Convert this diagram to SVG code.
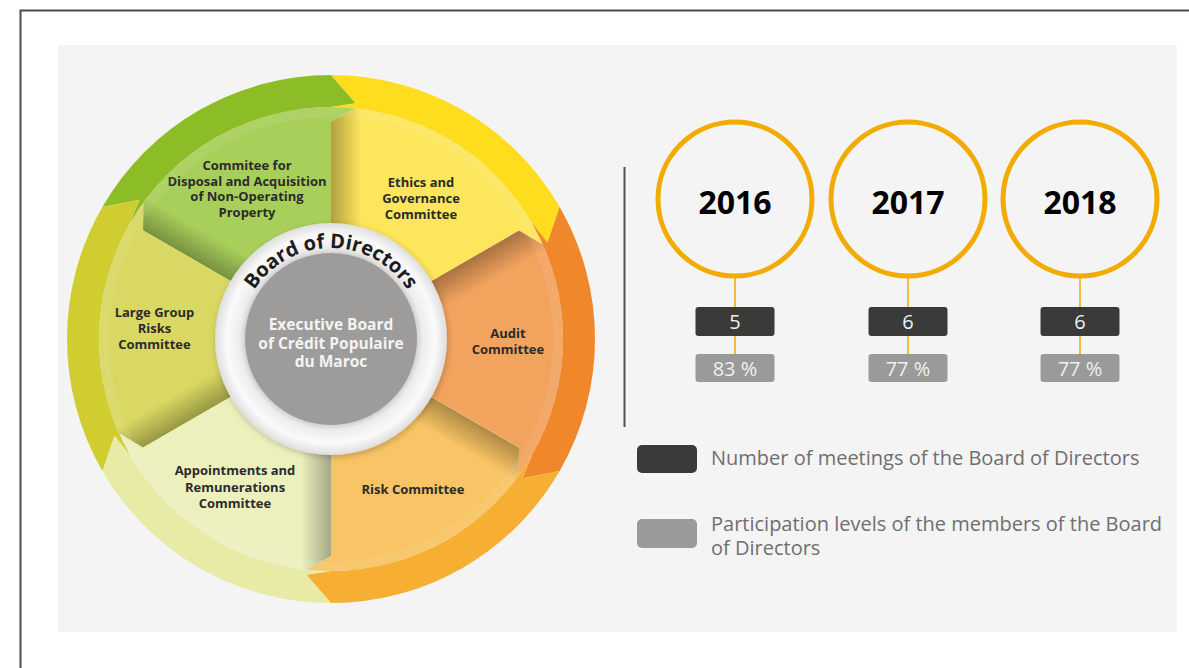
<svg xmlns="http://www.w3.org/2000/svg" xmlns:xlink="http://www.w3.org/1999/xlink" width="1189" height="668" viewBox="0 0 1189 668">
<style>
.lbl{font-family:"Open Sans","Liberation Sans",sans-serif;font-weight:700;font-size:13px;fill:#2b2b2b;text-anchor:middle}
.ctr{font-family:"Open Sans","Liberation Sans",sans-serif;font-weight:700;font-size:15.5px;fill:#f4f4f4;text-anchor:middle}
.bod{font-family:"Open Sans","Liberation Sans",sans-serif;font-weight:700;font-size:20px;fill:#1c1c1c}
.year{font-family:"Open Sans","Liberation Sans",sans-serif;font-weight:700;font-size:32px;fill:#000;text-anchor:middle}
.num{font-family:"Open Sans","Liberation Sans",sans-serif;font-weight:400;font-size:20px;fill:#f0f0f0;text-anchor:middle}
.leg{font-family:"Open Sans","Liberation Sans",sans-serif;font-weight:400;font-size:20px;fill:#6f6f6f}
.yc{fill:none;stroke:#f2ab00;stroke-width:5}
.gl{stroke:#f2ab00;stroke-width:1.5}
.db{fill:#3a3b38}
.gb{fill:#9a9a9a}
</style>
<defs>
<path id="segShape" d="M100,0 L217,0 L230.73,24.25 A232,232 0 0 1 94.36,211.94 L108.5,187.93 L50,86.6 A100,100 0 0 0 100,0 Z"/>
<path id="ringShape" d="M264,0 A264,264 0 0 1 132,228.63 L96.4,216.51 L116,200.92 A232,232 0 0 0 232,0 L235.7,24.77 Z"/>
<clipPath id="segClip"><use xlink:href="#segShape"/></clipPath>
<linearGradient id="shadowGrad" gradientUnits="userSpaceOnUse" x1="0" y1="0" x2="0" y2="30">
<stop offset="0" stop-color="#000" stop-opacity="0.3"/>
<stop offset="1" stop-color="#000" stop-opacity="0"/>
</linearGradient>
<radialGradient id="ringGrad" cx="331" cy="339" r="116" gradientUnits="userSpaceOnUse">
<stop offset="0.72" stop-color="#c6c6c6"/>
<stop offset="0.79" stop-color="#ededed"/>
<stop offset="0.9" stop-color="#fafafa"/>
<stop offset="1" stop-color="#dedede"/>
</radialGradient>
<filter id="drop" x="-20%" y="-20%" width="140%" height="140%">
<feDropShadow dx="1" dy="2" stdDeviation="3" flood-color="#000" flood-opacity="0.22"/>
</filter>
<path id="bodArc" d="M240,339 A91,91 0 0 1 422,339"/>
</defs>

<rect x="0" y="0" width="1189" height="668" fill="#ffffff"/>
<path d="M20.5,668 L20.5,10.5 L1189,10.5" fill="none" stroke="#4a4a4a" stroke-width="2"/>
<rect x="58" y="45" width="1119" height="587" fill="#f4f4f4"/>

<g id="node-disposal">
<g transform="translate(331,339) rotate(-150)">
<use xlink:href="#segShape" fill="#a9cf5b"/>
<rect x="90" y="0" width="150" height="30" fill="url(#shadowGrad)" clip-path="url(#segClip)"/>
</g>
<text class="lbl" x="247" y="170">Commitee for</text>
<text class="lbl" x="247" y="185.7">Disposal and Acquisition</text>
<text class="lbl" x="247" y="201.4">of Non-Operating</text>
<text class="lbl" x="247" y="217">Property</text>
</g>

<g id="node-ethics">
<g transform="translate(331,339) rotate(-90)">
<use xlink:href="#segShape" fill="#fde65b"/>
<rect x="90" y="0" width="150" height="30" fill="url(#shadowGrad)" clip-path="url(#segClip)"/>
</g>
<text class="lbl" x="421" y="187.3">Ethics and</text>
<text class="lbl" x="421" y="203.3">Governance</text>
<text class="lbl" x="421" y="219.3">Committee</text>
</g>

<g id="node-audit">
<g transform="translate(331,339) rotate(-30)">
<use xlink:href="#segShape" fill="#f2a35e"/>
<rect x="90" y="0" width="150" height="30" fill="url(#shadowGrad)" clip-path="url(#segClip)"/>
</g>
<text class="lbl" x="508" y="338.3">Audit</text>
<text class="lbl" x="508" y="354.3">Committee</text>
</g>

<g id="node-risk">
<g transform="translate(331,339) rotate(30)">
<use xlink:href="#segShape" fill="#f8c465"/>
<rect x="90" y="0" width="150" height="30" fill="url(#shadowGrad)" clip-path="url(#segClip)"/>
</g>
<text class="lbl" x="413" y="494">Risk Committee</text>
</g>

<g id="node-appointments">
<g transform="translate(331,339) rotate(90)">
<use xlink:href="#segShape" fill="#ecf0bd"/>
<rect x="90" y="0" width="150" height="30" fill="url(#shadowGrad)" clip-path="url(#segClip)"/>
</g>
<text class="lbl" x="235" y="475">Appointments and</text>
<text class="lbl" x="235" y="491.5">Remunerations</text>
<text class="lbl" x="235" y="507.5">Committee</text>
</g>

<g id="node-largegroup">
<g transform="translate(331,339) rotate(150)">
<use xlink:href="#segShape" fill="#d9d862"/>
<rect x="90" y="0" width="150" height="30" fill="url(#shadowGrad)" clip-path="url(#segClip)"/>
</g>
<text class="lbl" x="154.5" y="317.3">Large Group</text>
<text class="lbl" x="154.5" y="333">Risks</text>
<text class="lbl" x="154.5" y="349">Committee</text>
</g>

<circle cx="331" cy="339" r="227" fill="none" stroke="#ffffff" stroke-opacity="0.07" stroke-width="10"/>

<g id="connectors">
<g transform="translate(331,339)">
<use xlink:href="#ringShape" transform="rotate(-150)" fill="#8dbd26"/>
<use xlink:href="#ringShape" transform="rotate(-90)" fill="#fedd1f"/>
<use xlink:href="#ringShape" transform="rotate(-30)" fill="#f0872b"/>
<use xlink:href="#ringShape" transform="rotate(30)" fill="#f6ae33"/>
<use xlink:href="#ringShape" transform="rotate(90)" fill="#e8eba6"/>
<use xlink:href="#ringShape" transform="rotate(150)" fill="#cfcd2f"/>
</g>
<line class="gl" x1="735" y1="278" x2="735" y2="307"/>
<line class="gl" x1="735" y1="336" x2="735" y2="354"/>
<line class="gl" x1="908" y1="278" x2="908" y2="307"/>
<line class="gl" x1="908" y1="336" x2="908" y2="354"/>
<line class="gl" x1="1080" y1="278" x2="1080" y2="307"/>
<line class="gl" x1="1080" y1="336" x2="1080" y2="354"/>
</g>

<g id="node-board">
<circle cx="331" cy="339" r="116" fill="url(#ringGrad)" filter="url(#drop)"/>
<circle cx="331" cy="339" r="86" fill="#9d9c9a"/>
<text class="bod"><textPath xlink:href="#bodArc" startOffset="50%" text-anchor="middle">Board of Directors</textPath></text>
<text class="ctr" x="331" y="330">Executive Board</text>
<text class="ctr" x="331" y="349">of Crédit Populaire</text>
<text class="ctr" x="331" y="367">du Maroc</text>
</g>

<line x1="624.5" y1="167" x2="624.5" y2="427" stroke="#505050" stroke-width="2"/>

<g id="node-2016">
<circle class="yc" cx="735" cy="199" r="77"/>
<text class="year" x="735" y="214">2016</text>
<rect class="db" x="695.5" y="307" width="79" height="29" rx="3"/>
<text class="num" x="735" y="328.5">5</text>
<rect class="gb" x="695.5" y="354" width="79" height="28" rx="3"/>
<text class="num" x="735" y="375.5">83 %</text>
</g>

<g id="node-2017">
<circle class="yc" cx="908" cy="199" r="77"/>
<text class="year" x="908" y="214">2017</text>
<rect class="db" x="868.5" y="307" width="79" height="29" rx="3"/>
<text class="num" x="908" y="328.5">6</text>
<rect class="gb" x="868.5" y="354" width="79" height="28" rx="3"/>
<text class="num" x="908" y="375.5">77 %</text>
</g>

<g id="node-2018">
<circle class="yc" cx="1080" cy="199" r="77"/>
<text class="year" x="1080" y="214">2018</text>
<rect class="db" x="1040.5" y="307" width="79" height="29" rx="3"/>
<text class="num" x="1080" y="328.5">6</text>
<rect class="gb" x="1040.5" y="354" width="79" height="28" rx="3"/>
<text class="num" x="1080" y="375.5">77 %</text>
</g>

<g id="legend">
<rect class="db" x="637" y="445" width="60" height="28" rx="5"/>
<text class="leg" x="711" y="465">Number of meetings of the Board of Directors</text>
<rect class="gb" x="637" y="519" width="60" height="29" rx="5"/>
<text class="leg" x="711" y="531">Participation levels of the members of the Board</text>
<text class="leg" x="711" y="555">of Directors</text>
</g>
</svg>
